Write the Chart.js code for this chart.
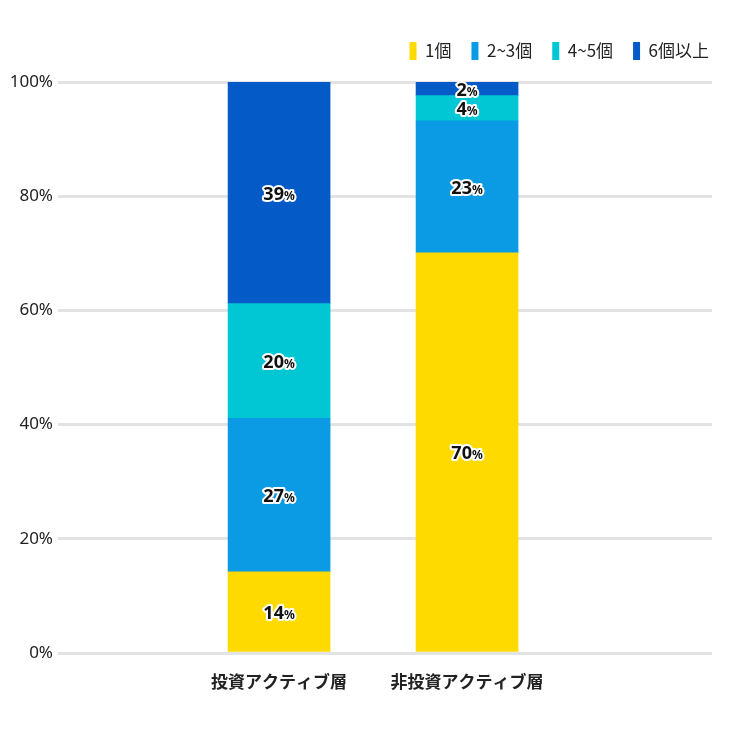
<!DOCTYPE html>
<html><head><meta charset="utf-8">
<script src="https://cdn.jsdelivr.net/npm/chart.js@4"></script>
<style>html,body{margin:0;padding:0;background:#fff}#wrap{width:729px;height:729px}</style>
</head><body><div id="wrap"><canvas id="c" width="729" height="729"></canvas></div>
<script>
const categories = ['投資アクティブ層', '非投資アクティブ層'];
const seriesNames = ['1個', '2~3個', '4~5個', '6個以上'];
const one = [14.2, 70.1];
const twoToThree = [26.9, 23.1];
const fourToFive = [20.1, 4.4];
const sixPlus = [38.8, 2.4];
const yTicks = [0, 20, 40, 60, 80, 100];
const colors = ['#FFDA00', '#0A9BE4', '#00C7D3', '#045BC8'];

const seriesValues = [one, twoToThree, fourToFive, sixPlus];
const CJK = "'Noto Sans CJK JP', 'Noto Sans', sans-serif";
const NUM = "'Noto Sans', 'Noto Sans CJK JP', sans-serif";

const labelPlugin = {
  id: 'segLabels',
  afterDatasetsDraw(chart) {
    const ctx = chart.ctx;
    chart.data.datasets.forEach((ds, di) => {
      const meta = chart.getDatasetMeta(di);
      meta.data.forEach((bar, i) => {
        const v = ds.data[i].y;
        const num = Math.round(v).toString();
        const cx = bar.x;
        const cy = (bar.y + bar.base) / 2;
        ctx.save();
        const numFont = "bold 18px " + NUM;
        const pctFont = "bold 12px " + NUM;
        ctx.font = numFont;
        const w1 = ctx.measureText(num).width;
        ctx.font = pctFont;
        const w2 = ctx.measureText('%').width;
        const x0 = cx - (w1 + w2) / 2;
        const base = cy + 7;
        ctx.textBaseline = 'alphabetic';
        ctx.textAlign = 'left';
        ctx.lineJoin = 'round';
        ctx.lineWidth = 4;
        ctx.strokeStyle = '#ffffff';
        ctx.fillStyle = '#111111';
        ctx.font = numFont;
        ctx.strokeText(num, x0, base);
        ctx.font = pctFont;
        ctx.strokeText('%', x0 + w1, base);
        ctx.font = numFont;
        ctx.fillText(num, x0, base);
        ctx.font = pctFont;
        ctx.fillText('%', x0 + w1, base);
        ctx.restore();
      });
    });
  }
};

new Chart(document.getElementById('c'), {
  type: 'bar',
  data: {
    datasets: seriesNames.map((name, si) => ({
      label: name,
      data: seriesValues[si].map((v, i) => ({ x: i, y: v })),
      backgroundColor: colors[si],
      borderWidth: 0,
      barThickness: 102,
      xAxisID: 'x',
      yAxisID: 'y'
    }))
  },
  options: {
    responsive: false,
    devicePixelRatio: 1,
    animation: false,
    layout: { padding: { left: 8, right: 0, top: 22, bottom: 0 } },
    plugins: {
      legend: {
        position: 'top',
        align: 'end',
        labels: {
          boxWidth: 7,
          boxHeight: 18,
          padding: 20,
          color: '#222',
          font: { family: CJK, size: 17 }
        }
      },
      title: {
        display: true,
        text: '',
        position: 'top',
        weight: 500,
        padding: 0,
        font: { size: 12, lineHeight: 1 }
      },
      tooltip: { enabled: false }
    },
    scales: {
      x: {
        type: 'linear',
        stacked: true,
        offset: false,
        min: -1.176,
        max: 2.303,
        grid: { display: false, drawTicks: false, offset: false },
        border: { display: false },
        afterBuildTicks(s) { s.ticks = categories.map((c, i) => ({ value: i })); },
        afterFit(s) { s.height = 76; },
        ticks: {
          autoSkip: false,
          maxRotation: 0,
          padding: 18,
          color: '#222',
          font: { family: CJK, size: 17, weight: 'bold' },
          callback: (v) => categories[v]
        }
      },
      y: {
        stacked: true,
        min: 0,
        max: 100,
        afterBuildTicks(s) { s.ticks = yTicks.map(v => ({ value: v })); },
        afterFit(s) { s.width = 50; },
        grid: { color: '#e2e3e4', lineWidth: 3, drawTicks: false },
        border: { display: false },
        ticks: {
          padding: 5,
          color: '#222',
          font: { family: NUM, size: 17 },
          callback: (v) => v + '%'
        }
      },
      y2: {
        position: 'right',
        display: true,
        grid: { display: false, drawTicks: false },
        border: { display: false },
        ticks: { display: false },
        afterFit(s) { s.width = 17; }
      }
    }
  },
  plugins: [labelPlugin]
});
</script>
</body></html>
